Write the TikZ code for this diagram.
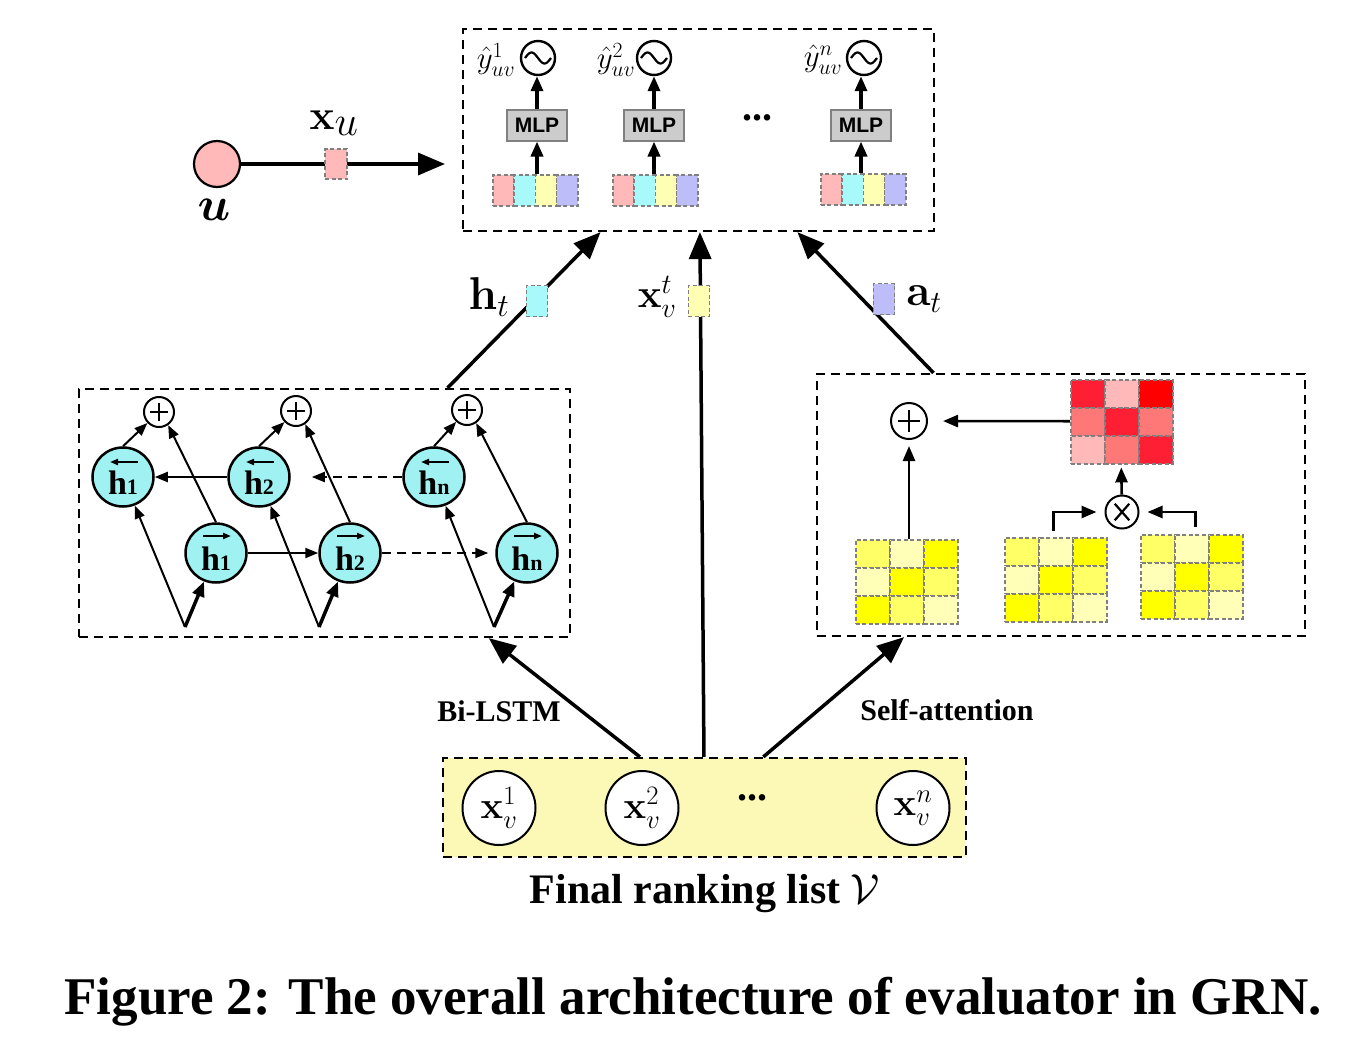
\RequirePackage{fix-cm}
\documentclass[tikz,border=0pt]{standalone}
\usepackage{graphicx}
\usepackage{amsmath,amssymb,bm}
\usepackage[no-math]{fontspec}
\newfontfamily\lib{Liberation Serif}
\newfontfamily\libsans{Liberation Sans}
\usetikzlibrary{arrows.meta,shapes.geometric,calc}
\definecolor{cpink}{HTML}{FFB9B9}
\definecolor{ccyan}{HTML}{A8FAFA}
\definecolor{cyel}{HTML}{FFFFB3}
\definecolor{clav}{HTML}{BDBDFA}
\definecolor{hcyan}{HTML}{A0F2F2}
\definecolor{botfill}{HTML}{FBF9B5}
\definecolor{Ra}{HTML}{FF1F35}
\definecolor{Rb}{HTML}{FFB9B9}
\definecolor{Rc}{HTML}{FF0000}
\definecolor{Rd}{HTML}{FF7878}
\definecolor{Ya}{HTML}{FFFF66}
\definecolor{Yb}{HTML}{FFFFB8}
\definecolor{Yc}{HTML}{FFFF00}
\definecolor{mlpgray}{HTML}{CCCCCC}
\newcommand\fs[1]{\fontsize{#1}{#1}\selectfont}
\newcommand\hlab[1]{\raisebox{-17pt}[0pt][0pt]{\lib\bfseries h\fs{22}#1}}
\newcommand\vecf[3]{%
  \foreach \cc [count=\k from 0] in {cpink,ccyan,cyel,clav} {
    \node[vcell, fill=\cc, anchor=north west] at ({#2+\k*21.25},#3) {};
  }
  \node[inner sep=0, minimum width=85pt, minimum height=31pt, anchor=north west] (#1) at (#2,#3) {};
}
\newcommand\cgrid[4]{%
  \foreach \cc [count=\k from 0] in {#4} {
    \pgfmathtruncatemacro\rr{int(\k/3)}
    \pgfmathtruncatemacro\qq{mod(\k,3)}
    \node[mcell, fill=\cc, anchor=north west] at ({#2+\qq*34},{#3+\rr*28}) {};
  }
  \node[inner sep=0, minimum width=102pt, minimum height=84pt, anchor=north west] (#1) at (#2,#3) {};
}
\begin{document}
\begin{tikzpicture}[x=1pt,y=-1pt,
  dbox/.style={draw, rectangle, dash pattern=on 9pt off 6pt, line width=2.2pt, inner sep=0},
  vcell/.style={draw=gray, rectangle, dash pattern=on 4pt off 2.5pt, line width=1.6pt, inner sep=0, minimum width=21.25pt, minimum height=31pt},
  mcell/.style={draw=gray, rectangle, dash pattern=on 4pt off 2.5pt, line width=1.6pt, inner sep=0, minimum width=34pt, minimum height=28pt},
  hnode/.style={ellipse, draw, line width=2.5pt, fill=hcyan, minimum width=61pt, minimum height=59pt, inner sep=0, font=\fs{34}},
  vecarrow/.style={line width=2pt, -{Triangle[length=8pt,width=6pt]}},
  plusn/.style={circle, draw, line width=2pt, minimum size=#1, inner sep=0,
    path picture={\draw[line width=2.4pt] ([xshift=-0.3*#1]path picture bounding box.center) -- ([xshift=0.3*#1]path picture bounding box.center);
                  \draw[line width=2.4pt] ([yshift=-0.3*#1]path picture bounding box.center) -- ([yshift=0.3*#1]path picture bounding box.center);}},
  timesn/.style={circle, draw, line width=2pt, minimum size=#1, inner sep=0,
    path picture={\draw[line width=2.2pt] ([xshift=-0.22*#1,yshift=-0.25*#1]path picture bounding box.center) -- ([xshift=0.22*#1,yshift=0.25*#1]path picture bounding box.center);
                  \draw[line width=2.2pt] ([xshift=-0.22*#1,yshift=0.25*#1]path picture bounding box.center) -- ([xshift=0.22*#1,yshift=-0.25*#1]path picture bounding box.center);}},
  sig/.style={circle, draw, line width=2.4pt, minimum size=34pt, inner sep=0,
    path picture={\draw[line width=2.2pt] plot[domain=-13:13, samples=40, smooth] ([xshift={\x*1pt}, yshift={5.5*sin(\x*13.85+180)*1pt}]path picture bounding box.center);}},
  mlp/.style={rectangle, draw=gray, fill=mlpgray, line width=2pt, minimum width=60pt, minimum height=31pt, inner sep=0, font=\libsans\bfseries\fs{21}},
  xnode/.style={ellipse, draw, line width=2pt, fill=white, minimum width=73pt, minimum height=74pt, inner sep=0, font=\fs{38}},
  bigarrow/.style={line width=3.5pt, -{Triangle[length=27pt,width=22pt]}},
  midarrow/.style={line width=3.5pt, -{Triangle[length=15pt,width=12pt]}},
  thinarrow/.style={line width=2pt, -{Triangle[length=13pt,width=10pt]}},
  thickin/.style={line width=3.5pt, -{Triangle[length=15pt,width=12pt]}},
  saarrow/.style={line width=2.6pt, -{Triangle[length=15pt,width=12pt]}},
  lbl/.style={inner sep=0, font=\lib\bfseries\fs{30}},
  dots/.style={inner sep=0, font=\lib\bfseries\fs{40}},
]
\useasboundingbox (0,0) rectangle (1352,1042);

% ---------- boxes ----------
\node[dbox, minimum width=471pt, minimum height=202pt] (top) at (698.5,130) {};
\node[dbox, minimum width=491pt, minimum height=248pt] (bl) at (324.5,513) {};
\node[dbox, minimum width=488pt, minimum height=262pt] (sa) at (1061,505) {};
\node[dbox, fill=botfill, minimum width=523pt, minimum height=99pt] (bot) at (704.5,807.5) {};

% ---------- user ----------
\node[circle, draw, line width=2.2pt, fill=cpink, minimum size=46pt, inner sep=0] (u) at (217,164) {};
\node[inner sep=0, font=\fs{48}] (ulab) at (214,210) {$\boldsymbol{u}$};
\coordinate (uend) at (445,164);
\draw[bigarrow] (u) -- (uend);
\node[vcell, fill=cpink, minimum width=22pt, minimum height=30pt] (xusq) at (336,164) {};
\node[inner sep=0, font=\fs{42}] (xulab) at (334,123) {$\mathbf{x}_{\textstyle u}$};

% ---------- top box content ----------
\foreach \i/\xs/\xm/\vx/\vy/\lx/\sup in {1/538/537/492/174/496/1, 2/654/654/612/174/616/2, 3/864/861/820/173/823/n} {
  \node[sig] (s\i) at (\xs,58) {};
  \node[mlp] (m\i) at (\xm,125) {MLP};
  \vecf{v\i}{\vx}{\vy}
  \node[inner sep=0, font=\fs{31}] (y\i) at (\lx,60) {$\hat{y}^{\sup}_{uv}$};
  \draw[midarrow] (m\i.south |- v\i.north) -- (m\i.south);
  \draw[midarrow] (m\i.north) -- (m\i.north |- s\i.south);
}
\node[dots] (tdots) at (757,118) {...};

% ---------- connectors into top box ----------
\draw[bigarrow] ($(bl.north west)!0.7495!(bl.north east)$) -- ($(top.south west)!0.293!(top.south east)$);
\draw[bigarrow] ($(bot.north west)!0.499!(bot.north east)$) -- ($(top.south west)!0.503!(top.south east)$);
\draw[bigarrow] ($(sa.north west)!0.24!(sa.north east)$) -- ($(top.south west)!0.709!(top.south east)$);
\node[vcell, fill=ccyan] (htsq) at (537,301) {};
\node[vcell, fill=cyel] (xvsq) at (699,301) {};
\node[vcell, fill=clav] (atsq) at (884,299) {};
\node[inner sep=0, font=\fs{46}] (htlab) at (489,297) {$\mathbf{h}_{t}$};
\node[inner sep=0, font=\fs{40}] (xvlab) at (657,297) {$\mathbf{x}_{v}^{t}$};
\node[inner sep=0, font=\fs{44}] (atlab) at (924,299) {$\mathbf{a}_{t}$};

% ---------- Bi-LSTM ----------
\node[plusn=30pt] (p1) at (159,412) {};
\node[plusn=30pt] (p2) at (296,411) {};
\node[plusn=30pt] (p3) at (467,410) {};
\node[hnode] (hb1) at (123,477) {\hlab{1}};
\node[hnode] (hb2) at (259,477) {\hlab{2}};
\node[hnode] (hb3) at (434,477) {\hlab{n}};
\node[hnode] (hf1) at (216,553) {\hlab{1}};
\node[hnode] (hf2) at (350,553) {\hlab{2}};
\node[hnode] (hf3) at (527,553) {\hlab{n}};
\coordinate (b1) at (185,627);
\coordinate (b2) at (319,627);
\coordinate (b3) at (494,627);
\foreach \i in {1,2,3} {
  \draw[vecarrow] ([xshift=15pt,yshift=15pt]hb\i.center) -- ([xshift=-13pt,yshift=15pt]hb\i.center);
  \draw[vecarrow] ([xshift=-13pt,yshift=17pt]hf\i.center) -- ([xshift=15pt,yshift=17pt]hf\i.center);
  \draw[thinarrow] (hb\i.north) -- (p\i);
  \draw[thinarrow] (hf\i.north) -- (p\i.-55);
  \draw[thinarrow] (b\i) -- (hb\i);
  \draw[thickin] (b\i) -- (hf\i);
}
\draw[thinarrow] (hb2) -- (hb1);
\coordinate (dashend1) at ($(hb2.east)+(21,0)$);
\draw[thinarrow, dash pattern=on 9pt off 6pt] (hb3) -- (dashend1);
\draw[thinarrow] (hf1) -- (hf2);
\draw[thinarrow, dash pattern=on 9pt off 6pt, shorten >=7pt] (hf2) -- (hf3);

% ---------- Self-attention ----------
\node[plusn=36pt] (pa) at (909,421) {};
\node[timesn=33pt] (ox) at (1122,512) {};
\cgrid{rm}{1070}{379}{Ra,Rb,Rc,Rd,Ra,Rd,Rb,Rd,Ra}
\cgrid{ya}{855}{539}{Ya,Yb,Yc,Yb,Yc,Ya,Yc,Ya,Yb}
\cgrid{yb}{1004}{537}{Ya,Yb,Yc,Yb,Yc,Ya,Yc,Ya,Yb}
\cgrid{yc}{1140}{534}{Ya,Yb,Yc,Yb,Yc,Ya,Yc,Ya,Yb}
\draw[saarrow, shorten >=15pt] (rm.west) -- (pa);
\draw[saarrow, shorten >=4pt] (ox) -- (rm.south);
\draw[saarrow, shorten >=6pt] (ya.north -| pa) -- (pa);
\draw[saarrow, shorten >=8pt] ($(yb.north)+(-2,-6)$) |- (ox);
\draw[saarrow, shorten >=8pt] ($(yc.north)+(4,-7)$) |- (ox);

% ---------- bottom ----------
\node[xnode] (x1) at (499,808) {$\mathbf{x}_{v}^{1}$};
\node[xnode] (x2) at (642,808) {$\mathbf{x}_{v}^{2}$};
\node[xnode] (x3) at (913,808) {$\mathbf{x}_{v}^{n}$};
\node[dots] (bdots) at (752,798) {...};
\draw[bigarrow] ($(bot.north west)!0.377!(bot.north east)$) -- ($(bl.south west)!0.833!(bl.south east)$);
\draw[bigarrow] ($(bot.north west)!0.612!(bot.north east)$) -- ($(sa.south west)!0.18!(sa.south east)$);
\node[lbl] (bilab) at (499,711) {Bi-LSTM};
\node[lbl] (salab) at (947,710) {Self-attention};
\node[inner sep=0, font=\lib\bfseries\fs{42}] (flab) at (705,894) {Final ranking list $\mathcal{V}$};

% ---------- caption ----------
\node[inner sep=0, font=\lib\bfseries\fs{53}] (cap) at (693,1002) {Figure 2: The overall architecture of evaluator in GRN.};
\end{tikzpicture}
\end{document}
